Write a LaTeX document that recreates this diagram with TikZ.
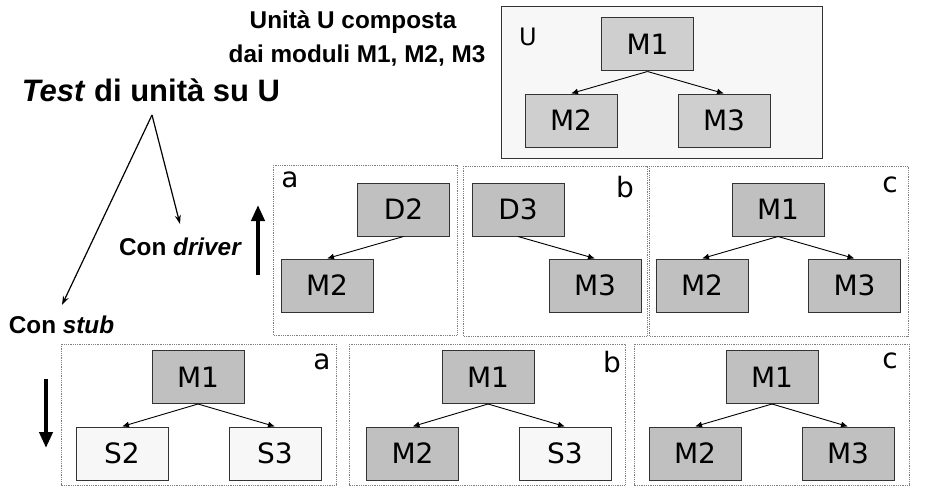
\documentclass[tikz,border=0pt]{standalone}
\usepackage{fontspec}
\setmainfont{Liberation Sans}
\newfontfamily\modfont{DejaVu Sans}
\usetikzlibrary{arrows.meta}
\definecolor{modgray}{HTML}{C0C0C0}
\definecolor{topgray}{HTML}{CFCFCF}
\definecolor{stubgray}{HTML}{F7F7F7}
\definecolor{edgegray}{HTML}{333333}
\tikzset{
  modbox/.style={draw=edgegray,line width=1pt,fill=modgray,minimum width=92pt,minimum height=53pt,inner sep=0pt,font=\modfont\fontsize{28}{32}\selectfont},
  stubbox/.style={modbox,fill=stubgray},
  panel/.style={draw=gray,densely dotted,line width=0.8pt},
  call/.style={-{Latex[length=7pt,width=6pt]},line width=0.9pt},
  tag/.style={font=\modfont\fontsize{28}{32}\selectfont},
  label/.style={anchor=base,font=\bfseries\fontsize{24.3}{28}\selectfont},
  bigarrow/.style={-{Triangle[length=16pt,width=13pt]},line width=4pt}
}
\begin{document}
\begin{tikzpicture}[x=1pt,y=-1pt]
  \useasboundingbox (0,0) rectangle (929,495);
  % unit U
  \draw [draw=edgegray,fill=stubgray,line width=1pt] (501,7) rectangle (822,158);
  \node at (528,37) [tag,font=\modfont\fontsize{24}{28}\selectfont] (ulab) {U};
  \node at (647.5,44.5) [modbox,fill=topgray] (um1) {M1};
  \node at (571,120.5) [modbox,fill=topgray] (um2) {M2};
  \node at (724,120.5) [modbox,fill=topgray] (um3) {M3};
  \draw [call] (um1.south) -- (um2.north);
  \draw [call] (um1.south) -- (um3.north);
  % texts
  \node at (353,29) [label] (unit1) {Unità U composta};
  \node at (357,63) [label] (unit2) {dai moduli M1, M2, M3};
  \node at (151,102) [label,font=\bfseries\fontsize{31}{36}\selectfont] (test) {\textit{Test} di unità su U};
  \node at (180.5,255) [label] (driver) {Con \textit{driver}};
  \node at (61.5,333) [label] (stub) {Con \textit{stub}};
  \coordinate (apex) at (152,115);
  \coordinate (dend) at (180,224);
  \coordinate (send) at (62,305);
  \draw [call,-{Stealth[length=9pt,width=6pt]},line width=1.2pt] (apex) -- (dend);
  \draw [call,-{Stealth[length=9pt,width=6pt]},line width=1.2pt] (apex) -- (send);
  \coordinate (up0) at (258,275);
  \coordinate (up1) at (258,205);
  \coordinate (dn0) at (46,379);
  \coordinate (dn1) at (46,448);
  \draw [bigarrow] (up0) -- (up1);
  \draw [bigarrow] (dn0) -- (dn1);
  % driver panels
  \draw [panel] (273,165) rectangle (457,335);
  \draw [panel] (463,166) rectangle (647,336);
  \draw [panel] (649,166) rectangle (908,336);
  \node at (290,180) [tag] (da) {a};
  \node at (625,187) [tag] (db) {b};
  \node at (890,184.5) [tag] (dc) {c};
  \node at (403.5,209.5) [modbox] (ad2) {D2};
  \node at (327,285.5) [modbox] (am2) {M2};
  \draw [call] (ad2.south) -- (am2.north);
  \node at (518,209.5) [modbox] (bd3) {D3};
  \node at (595,285.5) [modbox] (bm3) {M3};
  \draw [call] (bd3.south) -- (bm3.north);
  \node at (778,209.5) [modbox] (cm1) {M1};
  \node at (702,285.5) [modbox] (cm2) {M2};
  \node at (854.5,285.5) [modbox] (cm3) {M3};
  \draw [call] (cm1.south) -- (cm2.north);
  \draw [call] (cm1.south) -- (cm3.north);
  % stub panels
  \draw [panel] (61,344) rectangle (336,485);
  \draw [panel] (349,344) rectangle (625,485);
  \draw [panel] (634,344) rectangle (909,485);
  \node at (322,362) [tag] (sa) {a};
  \node at (612,362) [tag] (sb) {b};
  \node at (890,361) [tag] (sc) {c};
  \node at (198,377) [modbox] (sam1) {M1};
  \node at (122,453.5) [stubbox] (sas2) {S2};
  \node at (275,453.5) [stubbox] (sas3) {S3};
  \draw [call] (sam1.south) -- (sas2.north);
  \draw [call] (sam1.south) -- (sas3.north);
  \node at (488,377) [modbox] (sbm1) {M1};
  \node at (412.5,453.5) [modbox] (sbm2) {M2};
  \node at (565,453.5) [stubbox] (sbs3) {S3};
  \draw [call] (sbm1.south) -- (sbm2.north);
  \draw [call] (sbm1.south) -- (sbs3.north);
  \node at (772,377) [modbox] (scm1) {M1};
  \node at (695,453.5) [modbox] (scm2) {M2};
  \node at (848,453.5) [modbox] (scm3) {M3};
  \draw [call] (scm1.south) -- (scm2.north);
  \draw [call] (scm1.south) -- (scm3.north);
\end{tikzpicture}
\end{document}
